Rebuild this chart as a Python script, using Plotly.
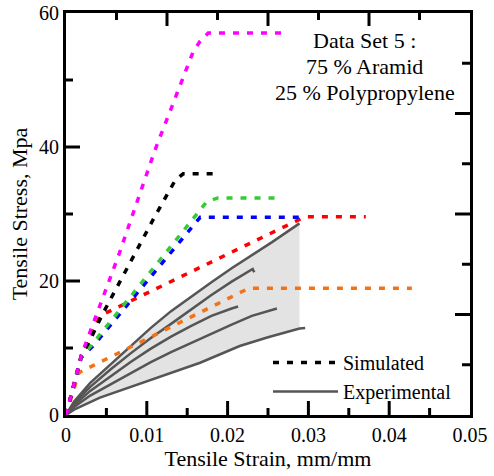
import numpy as np
import plotly.graph_objects as go

# ---------------- data ----------------
# Simulated curves (strain mm/mm, stress MPa)
mag_x = [0, 0.0019, 0.0065, 0.0110, 0.0157, 0.0166, 0.0176, 0.0273]
mag_y = [0, 8.9, 23.8, 39.5, 54.1, 55.8, 57.0, 57.0]

blk_x = [0, 0.0019, 0.0029, 0.0045, 0.0108, 0.0127, 0.0135, 0.0145, 0.0189]
blk_y = [0, 8.9, 11.0, 15.0, 29.2, 33.2, 35.0, 36.0, 36.0]

blu_x = [0, 0.0019, 0.0035, 0.0161, 0.0166, 0.0298]
blu_y = [0, 8.6, 10.5, 28.9, 29.5, 29.5]

grn_x = [0, 0.0019, 0.0032, 0.0151, 0.0163, 0.0174, 0.0188, 0.0267]
grn_y = [0, 8.7, 10.5, 28.2, 30.0, 31.8, 32.4, 32.4]

red_x = [0, 0.0019, 0.0029, 0.0042, 0.0296, 0.0371]
red_y = [0, 8.9, 11.0, 14.8, 29.6, 29.6]

org_x = [0, 0.0016, 0.0034, 0.0219, 0.0226, 0.0428]
org_y = [0, 6.3, 7.4, 18.6, 18.9, 18.9]

# Experimental curves
e1_x = [0, 0.001, 0.003, 0.0055, 0.008, 0.0105, 0.013, 0.0155, 0.018, 0.0205, 0.023, 0.0255, 0.0289]
e1_y = [0, 2.0, 4.8, 7.5, 10.3, 13.0, 15.5, 17.7, 19.8, 21.9, 23.8, 25.8, 28.6]

e2_x = [0, 0.001, 0.003, 0.0055, 0.008, 0.0105, 0.013, 0.0155, 0.018, 0.0205, 0.0225, 0.0231, 0.0233]
e2_y = [0, 1.8, 4.2, 6.8, 9.2, 11.5, 13.6, 15.8, 17.9, 19.9, 21.3, 21.8, 21.3]

e3_x = [0, 0.001, 0.003, 0.0055, 0.008, 0.0105, 0.013, 0.0155, 0.018, 0.0205, 0.0213]
e3_y = [0, 1.5, 3.6, 5.8, 7.9, 9.9, 11.7, 13.3, 14.8, 15.9, 16.2]

e4_x = [0, 0.001, 0.003, 0.0055, 0.008, 0.0105, 0.013, 0.0155, 0.018, 0.0205, 0.023, 0.0261]
e4_y = [0, 1.2, 2.9, 4.6, 6.3, 7.9, 9.4, 10.8, 12.2, 13.5, 14.8, 15.9]

e5_x = [0, 0.001, 0.0042, 0.0083, 0.0125, 0.0166, 0.0215, 0.025, 0.0289, 0.0296]
e5_y = [0, 0.8, 2.6, 4.3, 6.0, 7.8, 10.3, 11.6, 12.9, 13.0]

band_end = 0.0289

# axis ticks
x_ticks = [0, 0.01, 0.02, 0.03, 0.04, 0.05]
x_labels = ["0", "0.01", "0.02", "0.03", "0.04", "0.05"]
x_minor = [0.005, 0.015, 0.025, 0.035, 0.045]
x_top_major = [0.0125, 0.025, 0.0375]
x_top_minor = [0.00625, 0.01875, 0.03125, 0.04375]
y_ticks = [0, 20, 40, 60]
y_minor = [10, 30, 50]
y_right_major = [15, 30, 45]
y_right_minor = [7.5, 22.5, 37.5, 52.5]

annot_lines = ["Data Set 5 :", "75 % Aramid", "25 % Polypropylene"]
annot_y = [55.9, 52.0, 48.2]

X_RANGE = [0, 0.05]
Y_RANGE = [0, 60]

# ---------------- figure ----------------
W, H = 494, 476
ML, MR, MT, MB = 66, 24, 13, 60.5
PX_PER_X = (W - ML - MR) / (X_RANGE[1] - X_RANGE[0])   # pixels per strain unit
PX_PER_Y = (H - MT - MB) / (Y_RANGE[1] - Y_RANGE[0])   # pixels per MPa

FONT = "Liberation Serif, Times New Roman, serif"
fig = go.Figure()

ux = [x for x in e1_x if x <= band_end]
uy = [y for x, y in zip(e1_x, e1_y) if x <= band_end]
lx = [x for x in e5_x if x <= band_end]
ly = [y for x, y in zip(e5_x, e5_y) if x <= band_end]
fig.add_trace(go.Scatter(x=ux + lx[::-1], y=uy + ly[::-1], fill="toself",
                         fillcolor="#e3e3e3", line=dict(width=0),
                         mode="lines", showlegend=False, hoverinfo="skip"))

for ex, ey in [(e1_x, e1_y), (e2_x, e2_y), (e3_x, e3_y), (e4_x, e4_y), (e5_x, e5_y)]:
    fig.add_trace(go.Scatter(x=ex, y=ey, mode="lines", line=dict(color="#555555", width=2.5),
                             showlegend=False))

sim = [(org_x, org_y, "#f47216"), (red_x, red_y, "#ff0000"), (blu_x, blu_y, "#0000ff"),
       (grn_x, grn_y, "#33cc33"), (blk_x, blk_y, "#000000"), (mag_x, mag_y, "#ff00ff")]
for sx, sy, c in sim:
    fig.add_trace(go.Scatter(x=sx, y=sy, mode="lines",
                             line=dict(color=c, width=3.5, dash="6px,8px"),
                             showlegend=False))

fig.add_trace(go.Scatter(x=[None], y=[None], mode="lines", name="Simulated",
                         line=dict(color="black", width=3.5, dash="6px,8px")))
fig.add_trace(go.Scatter(x=[None], y=[None], mode="lines", name="Experimental",
                         line=dict(color="#555555", width=2.5)))

# inward tick marks (built from the tick value lists, lengths given in pixels)
tx, ty = [], []
def xt(vals, base, length_px, direction):
    for v in vals:
        tx.extend([v, v, None])
        ty.extend([base, base + direction * length_px / PX_PER_Y, None])
def yt(vals, base, length_px, direction):
    for v in vals:
        ty.extend([v, v, None])
        tx.extend([base, base + direction * length_px / PX_PER_X, None])

xt(x_ticks[1:-1], Y_RANGE[0], 14, 1)
xt(x_minor, Y_RANGE[0], 7, 1)
xt(x_top_major, Y_RANGE[1], 13, -1)
xt(x_top_minor, Y_RANGE[1], 7, -1)
yt(y_ticks[1:-1], X_RANGE[0], 14, 1)
yt(y_minor, X_RANGE[0], 7, 1)
yt(y_right_major, X_RANGE[1], 15, -1)
yt(y_right_minor, X_RANGE[1], 8, -1)
fig.add_trace(go.Scatter(x=tx, y=ty, mode="lines", line=dict(color="black", width=3),
                         showlegend=False, hoverinfo="skip", cliponaxis=False))

for t, yy in zip(annot_lines, annot_y):
    fig.add_annotation(x=0.03697, y=yy, xref="x", yref="y", text=t,
                       showarrow=False, font=dict(family=FONT, size=22, color="black"),
                       xanchor="center", yanchor="middle")

fig.update_layout(
    width=W, height=H,
    margin=dict(l=ML, r=MR, t=MT, b=MB, autoexpand=False),
    paper_bgcolor="white", plot_bgcolor="white",
    font=dict(family=FONT, size=20, color="black"),
    xaxis=dict(range=X_RANGE, tickmode="array", tickvals=x_ticks, ticktext=x_labels,
               ticks="", showline=True, mirror=True, linewidth=3, linecolor="black",
               showgrid=False, zeroline=False,
               title=dict(text="Tensile Strain, mm/mm", font=dict(size=22), standoff=4),
               tickfont=dict(size=20), automargin=False),
    yaxis=dict(range=Y_RANGE, tickmode="array", tickvals=y_ticks,
               ticks="", showline=True, mirror=True, linewidth=3, linecolor="black",
               showgrid=False, zeroline=False,
               title=dict(text="Tensile Stress, Mpa", font=dict(size=22), standoff=6),
               tickfont=dict(size=20), automargin=False),
    legend=dict(x=0.5, y=0.179, xanchor="left", yanchor="top", bgcolor="rgba(0,0,0,0)",
                font=dict(size=20), itemwidth=65, tracegroupgap=0),
    showlegend=True,
)

fig.write_html("out.html")
